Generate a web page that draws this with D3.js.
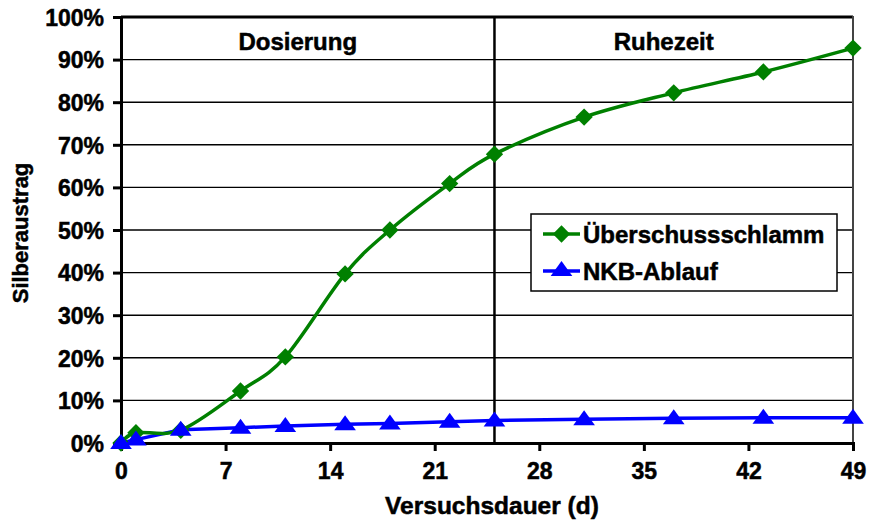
<!DOCTYPE html>
<html>
<head>
<meta charset="utf-8">
<script src="https://cdn.jsdelivr.net/npm/d3@7"></script>
<style>
  body { margin: 0; background: #fff; }
  text { font-family: "Liberation Sans", Arial, sans-serif; font-weight: bold; fill: #000; stroke: #000; stroke-width: 0.5px; }
</style>
</head>
<body>
<div id="chart"></div>
<script>
// days of the trial
const days = [0, 1, 4, 8, 11, 15, 18, 22, 25, 31, 37, 43, 49];
// silver discharge, fraction
const schlamm = [0, 0.024, 0.03, 0.122, 0.202, 0.397, 0.50, 0.609, 0.678, 0.765, 0.822, 0.871, 0.927];
const ablauf = [0, 0.008, 0.031, 0.036, 0.04, 0.044, 0.046, 0.05, 0.053, 0.056, 0.058, 0.059, 0.059];
const xTicks = [0, 7, 14, 21, 28, 35, 42, 49];
const yTicks = [0, 0.1, 0.2, 0.3, 0.4, 0.5, 0.6, 0.7, 0.8, 0.9, 1.0];
const phaseSplit = 25;
const phases = [{name: "Dosierung", from: 0, to: 25}, {name: "Ruhezeit", from: 25, to: 49}];

const width = 869, height = 524;
const svg = d3.select("#chart").append("svg")
  .attr("width", width).attr("height", height);

const x = d3.scaleLinear().domain([0, 49]).range([121, 853]);
const y = d3.scaleLinear().domain([0, 1]).range([443, 17]);

// gridlines
svg.append("g").selectAll("line").data(yTicks.slice(1))
  .enter().append("line")
  .attr("x1", x(0)).attr("x2", x(49))
  .attr("y1", d => y(d)).attr("y2", d => y(d))
  .attr("stroke", "#000").attr("stroke-width", d => d === 1 ? 3 : 1.4);

// right border
svg.append("line")
  .attr("x1", x(49)).attr("x2", x(49)).attr("y1", y(1) - 1).attr("y2", y(0))
  .attr("stroke", "#444").attr("stroke-width", 2);

// phase separator
svg.append("line")
  .attr("x1", x(phaseSplit)).attr("x2", x(phaseSplit)).attr("y1", y(1)).attr("y2", y(0))
  .attr("stroke", "#000").attr("stroke-width", 2.5);

svg.append("g").selectAll("text").data(phases)
  .enter().append("text")
  .attr("x", d => (x(d.from) + x(d.to)) / 2 - 10)
  .attr("y", 50)
  .attr("text-anchor", "middle")
  .style("font-size", "24px")
  .text(d => d.name);

// axes
const yAxis = svg.append("g")
  .attr("transform", `translate(${x(0)},0)`)
  .call(d3.axisLeft(y).tickValues(yTicks).tickFormat(d3.format(".0%")).tickSize(8).tickPadding(9));
const xAxis = svg.append("g")
  .attr("transform", `translate(0,${y(0)})`)
  .call(d3.axisBottom(x).tickValues(xTicks).tickSize(8).tickPadding(12));

[xAxis, yAxis].forEach(ax => {
  ax.select(".domain").attr("stroke", "#000").attr("stroke-width", 3);
  ax.selectAll(".tick line").attr("stroke", "#000").attr("stroke-width", 3);
  ax.selectAll(".tick text")
    .style("font-family", "'Liberation Sans', Arial, sans-serif")
    .style("font-weight", "bold")
    .style("font-size", "23px")
    .attr("fill", "#000");
});
yAxis.selectAll(".tick text").attr("dy", "0.36em");

svg.append("text")
  .attr("x", (x(0) + x(49)) / 2 + 5).attr("y", 514)
  .attr("text-anchor", "middle")
  .style("font-size", "24.5px")
  .text("Versuchsdauer (d)");

svg.append("text")
  .attr("transform", `translate(28,${(y(0) + y(1)) / 2 + 3}) rotate(-90)`)
  .attr("text-anchor", "middle")
  .style("font-size", "22px")
  .text("Silberaustrag");

// series
const green = "#008000", blue = "#0000ff";
const smooth = d3.line().x((d, i) => x(days[i])).y(d => y(d)).curve(d3.curveCatmullRom.alpha(0));
const straight = d3.line().x((d, i) => x(days[i])).y(d => y(d));

svg.append("path").datum(ablauf)
  .attr("d", straight).attr("fill", "none").attr("stroke", blue).attr("stroke-width", 3.5);
svg.append("path").datum(schlamm)
  .attr("d", smooth).attr("fill", "none").attr("stroke", green).attr("stroke-width", 3.5);

const diamond = d3.symbol().type(d3.symbolSquare).size(150);
const triangle = d3.symbol().type(d3.symbolTriangle).size(130);

svg.append("g").selectAll("path").data(schlamm)
  .enter().append("path")
  .attr("d", diamond)
  .attr("transform", (d, i) => `translate(${x(days[i])},${y(d)}) rotate(45)`)
  .attr("fill", green);

svg.append("g").selectAll("path").data(ablauf)
  .enter().append("path")
  .attr("d", triangle)
  .attr("transform", (d, i) => `translate(${x(days[i])},${y(d) + 1}) scale(1.25,1)`)
  .attr("fill", blue);

// legend
const legend = svg.append("g");
legend.append("rect")
  .attr("x", 531).attr("y", 214).attr("width", 306).attr("height", 77)
  .attr("fill", "#fff").attr("stroke", "#000").attr("stroke-width", 1.5);
const items = [
  {name: "Überschussschlamm", color: green, sym: diamond, rot: 45, sx: 1},
  {name: "NKB-Ablauf", color: blue, sym: triangle, rot: 0, sx: 1.25}
];
const li = legend.selectAll("g.item").data(items).enter().append("g")
  .attr("transform", (d, i) => `translate(0,${234 + i * 37})`);
li.append("line").attr("x1", 543).attr("x2", 580).attr("y1", 0).attr("y2", 0)
  .attr("stroke", d => d.color).attr("stroke-width", 3.5);
li.append("path").attr("d", d => d.sym())
  .attr("transform", d => `translate(561.5,0) rotate(${d.rot}) scale(${d.sx},1)`)
  .attr("fill", d => d.color);
li.append("text").attr("x", 583).attr("y", 0).attr("dy", "0.36em")
  .style("font-size", "24px")
  .text(d => d.name);
</script>
</body>
</html>
